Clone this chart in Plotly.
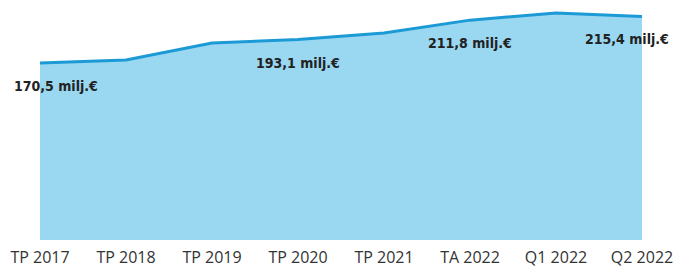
import plotly.graph_objects as go

categories = ["TP 2017", "TP 2018", "TP 2019", "TP 2020", "TP 2021", "TA 2022", "Q1 2022", "Q2 2022"]
values = [170.5, 173.4, 189.8, 193.1, 199.4, 211.8, 218.7, 215.4]
label_idx = [0, 3, 5, 7]
label_texts = ["170,5 milj.€", "193,1 milj.€", "211,8 milj.€", "215,4 milj.€"]
label_xshift = [16, 0, 0, -15]

xs = list(range(len(categories)))

fig = go.Figure()
fig.add_trace(go.Scatter(
    x=xs, y=values, mode="lines", fill="tozeroy",
    fillcolor="#9AD7F1", line=dict(color="#1C9AD6", width=3),
    hoverinfo="skip", showlegend=False,
))

for i, t, dx in zip(label_idx, label_texts, label_xshift):
    fig.add_annotation(
        x=xs[i], y=values[i], text="<b>" + t + "</b>", showarrow=False,
        yshift=-23, xshift=dx,
        font=dict(family="DejaVu Sans Condensed, Roboto Condensed, Roboto", size=14, color="#222222"),
    )

fig.update_layout(
    width=675, height=267,
    margin=dict(l=40, r=33, t=0, b=27),
    paper_bgcolor="white", plot_bgcolor="white",
    xaxis=dict(range=[0, 7], tickvals=xs, ticktext=categories, automargin=False,
               showgrid=False, zeroline=False, showline=False, ticks="",
               ticklabelstandoff=6,
               tickfont=dict(family="Open Sans", size=16, color="#333333")),
    yaxis=dict(range=[0, 231.2], visible=False, automargin=False),
)

fig.write_html(
    "out.html",
    config={"displayModeBar": False},
    post_script="document.body.style.margin='0';document.body.style.overflow='hidden';",
)
